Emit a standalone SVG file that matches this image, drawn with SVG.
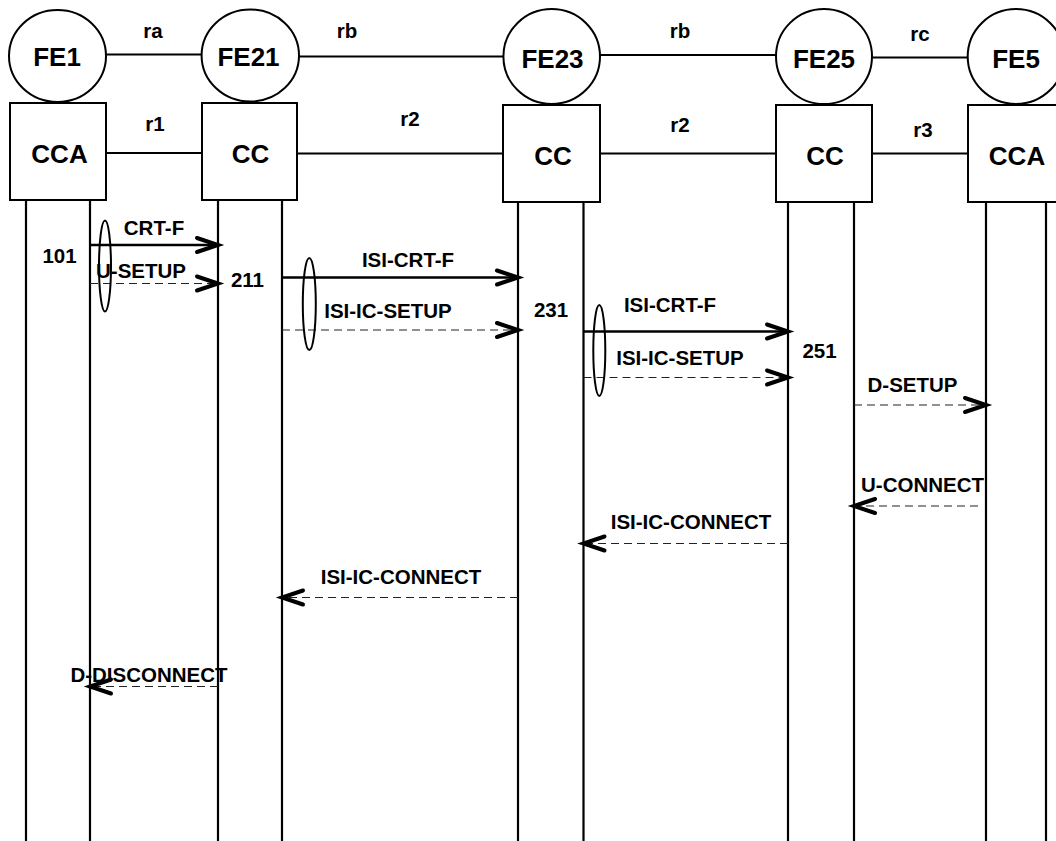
<svg xmlns="http://www.w3.org/2000/svg" width="1056" height="841" viewBox="0 0 1056 841">
<defs>
<style>
.fe{fill:#fff;stroke:#000;stroke-width:2}
.lbl{font-family:"Liberation Sans",Arial,sans-serif;font-weight:bold;text-anchor:middle;fill:#000}
.big{font-size:26px}
.sm{font-size:20.5px}
.ln{stroke:#000;stroke-width:2;fill:none}
.life{stroke:#000;stroke-width:2.2;fill:none}
.solid{stroke:#000;stroke-width:2.4;fill:none;marker-end:url(#ah)}
.dash{stroke:#222;stroke-width:1.1;stroke-dasharray:8,5;fill:none;marker-end:url(#ah)}
.ov{fill:none;stroke:#000;stroke-width:2}
</style>
<marker id="ah" markerUnits="userSpaceOnUse" markerWidth="40" markerHeight="30" viewBox="0 0 40 30" refX="30" refY="15" orient="auto">
<path d="M9,8 L30,15 L9,22" fill="none" stroke="#000" stroke-width="4" stroke-linecap="round"/>
</marker>
</defs>
<g id="links">
<line class="ln" x1="106" y1="54.5" x2="202" y2="54.5"/>
<line class="ln" x1="299" y1="56.5" x2="503" y2="56.5"/>
<line class="ln" x1="600" y1="55" x2="776" y2="55"/>
<line class="ln" x1="872" y1="57.5" x2="968" y2="57.5"/>
<line class="ln" x1="106" y1="153" x2="202" y2="153"/>
<line class="ln" x1="297" y1="153.5" x2="503" y2="153.5"/>
<line class="ln" x1="600" y1="153.5" x2="776" y2="153.5"/>
<line class="ln" x1="872" y1="153.5" x2="968" y2="153.5"/>
<text class="lbl sm" x="153" y="38">ra</text>
<text class="lbl sm" x="347" y="38">rb</text>
<text class="lbl sm" x="680" y="38">rb</text>
<text class="lbl sm" x="920" y="41">rc</text>
<text class="lbl sm" x="155" y="131">r1</text>
<text class="lbl sm" x="410" y="126">r2</text>
<text class="lbl sm" x="680" y="132">r2</text>
<text class="lbl sm" x="923" y="137">r3</text>
</g>
<g id="FE1">
<ellipse class="fe" cx="57.5" cy="56" rx="48.5" ry="46"/>
<text class="lbl big" x="57" y="66">FE1</text>
<rect class="fe" x="10" y="103" width="96" height="97"/>
<text class="lbl big" x="59.5" y="163">CCA</text>
<line class="life" x1="26" y1="200" x2="26" y2="841"/>
<line class="life" x1="90" y1="200" x2="90" y2="841"/>
</g>
<g id="FE21">
<ellipse class="fe" cx="250.3" cy="55.5" rx="48.7" ry="46"/>
<text class="lbl big" x="248.5" y="66">FE21</text>
<rect class="fe" x="202" y="103" width="95" height="97"/>
<text class="lbl big" x="250.5" y="163">CC</text>
<line class="life" x1="218" y1="200" x2="218" y2="841"/>
<line class="life" x1="282" y1="200" x2="282" y2="841"/>
</g>
<g id="FE23">
<ellipse class="fe" cx="551.7" cy="56.5" rx="48.3" ry="47.5"/>
<text class="lbl big" x="552.5" y="68">FE23</text>
<rect class="fe" x="503" y="105" width="97" height="97"/>
<text class="lbl big" x="553" y="165">CC</text>
<line class="life" x1="518" y1="202" x2="518" y2="841"/>
<line class="life" x1="583.5" y1="202" x2="583.5" y2="841"/>
</g>
<g id="FE25">
<ellipse class="fe" cx="824" cy="56.5" rx="48" ry="47.5"/>
<text class="lbl big" x="824" y="68">FE25</text>
<rect class="fe" x="776" y="105" width="96" height="97"/>
<text class="lbl big" x="825" y="165">CC</text>
<line class="life" x1="788" y1="202" x2="788" y2="841"/>
<line class="life" x1="854" y1="202" x2="854" y2="841"/>
</g>
<g id="FE5">
<ellipse class="fe" cx="1016" cy="56.5" rx="48.3" ry="47.5"/>
<text class="lbl big" x="1016" y="68">FE5</text>
<rect class="fe" x="968" y="105" width="96" height="97"/>
<text class="lbl big" x="1017" y="165">CCA</text>
<line class="life" x1="986" y1="202" x2="986" y2="841"/>
<line class="life" x1="1046" y1="202" x2="1046" y2="841"/>
</g>
<g id="connectors">
<line class="solid" x1="90" y1="245" x2="218" y2="245"/>
<line class="dash" x1="90" y1="283.5" x2="218" y2="283.5"/>
<line class="solid" x1="282" y1="277.5" x2="518" y2="277.5"/>
<line class="dash" x1="282" y1="330" x2="518" y2="330"/>
<line class="solid" x1="583.5" y1="331.5" x2="788" y2="331.5"/>
<line class="dash" x1="583.5" y1="377.5" x2="788" y2="377.5"/>
<line class="dash" x1="854" y1="405" x2="986" y2="405"/>
<line class="dash" x1="978" y1="506" x2="854" y2="506"/>
<line class="dash" x1="788" y1="543.5" x2="583.5" y2="543.5"/>
<line class="dash" x1="518" y1="597.5" x2="282" y2="597.5"/>
<line class="dash" x1="218" y1="686.5" x2="90" y2="686.5"/>
<ellipse class="ov" cx="105" cy="266" rx="6" ry="45.5"/>
<ellipse class="ov" cx="309.3" cy="304" rx="6.5" ry="46"/>
<ellipse class="ov" cx="599.3" cy="350.5" rx="6" ry="45.5"/>
<text class="lbl sm" x="154" y="235">CRT-F</text>
<text class="lbl sm" x="141" y="278">U-SETUP</text>
<text class="lbl sm" x="408" y="266.5">ISI-CRT-F</text>
<text class="lbl sm" x="388" y="318">ISI-IC-SETUP</text>
<text class="lbl sm" x="670" y="311.5">ISI-CRT-F</text>
<text class="lbl sm" x="680" y="365">ISI-IC-SETUP</text>
<text class="lbl sm" x="912.5" y="391.5">D-SETUP</text>
<text class="lbl sm" x="922.5" y="491.5">U-CONNECT</text>
<text class="lbl sm" x="691" y="528.5">ISI-IC-CONNECT</text>
<text class="lbl sm" x="401" y="583.5">ISI-IC-CONNECT</text>
<text class="lbl sm" x="149" y="681.5">D-DISCONNECT</text>
<text class="lbl sm" x="59.5" y="263">101</text>
<text class="lbl sm" x="247.5" y="287">211</text>
<text class="lbl sm" x="551" y="317">231</text>
<text class="lbl sm" x="819.5" y="358">251</text>
</g>
</svg>
